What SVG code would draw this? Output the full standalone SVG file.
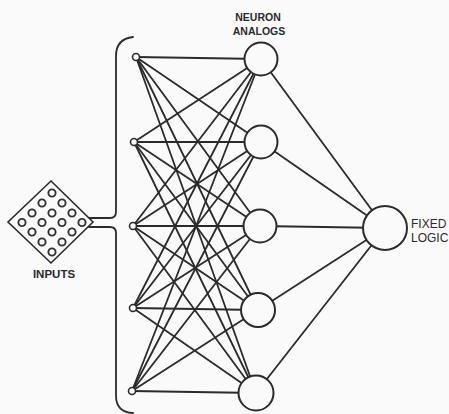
<svg xmlns="http://www.w3.org/2000/svg" width="449" height="414" viewBox="0 0 449 414">
<style>
.ln{stroke:#2b2b2b;stroke-width:1.8;fill:none;stroke-linecap:round}
.nd{stroke:#2b2b2b;stroke-width:2;fill:#fafafa}
.in{stroke:#2b2b2b;stroke-width:1.6;fill:#fafafa}
.dot{stroke:#333;stroke-width:1.9;fill:none}
.lb{font-family:"Liberation Sans",Arial,sans-serif;fill:#2a2a2a}
</style>
<rect width="449" height="414" fill="#fafafa"/>
<g id="connectors" class="ln">
<line x1="136" y1="57" x2="261" y2="59"/><line x1="136" y1="57" x2="261" y2="142"/><line x1="136" y1="57" x2="260" y2="226"/><line x1="136" y1="57" x2="258" y2="310"/><line x1="136" y1="57" x2="256" y2="393"/>
<line x1="134" y1="142" x2="261" y2="59"/><line x1="134" y1="142" x2="261" y2="142"/><line x1="134" y1="142" x2="260" y2="226"/><line x1="134" y1="142" x2="258" y2="310"/><line x1="134" y1="142" x2="256" y2="393"/>
<line x1="133" y1="226" x2="261" y2="59"/><line x1="133" y1="226" x2="261" y2="142"/><line x1="133" y1="226" x2="260" y2="226"/><line x1="133" y1="226" x2="258" y2="310"/><line x1="133" y1="226" x2="256" y2="393"/>
<line x1="133" y1="308" x2="261" y2="59"/><line x1="133" y1="308" x2="261" y2="142"/><line x1="133" y1="308" x2="260" y2="226"/><line x1="133" y1="308" x2="258" y2="310"/><line x1="133" y1="308" x2="256" y2="393"/>
<line x1="132" y1="391" x2="261" y2="59"/><line x1="132" y1="391" x2="261" y2="142"/><line x1="132" y1="391" x2="260" y2="226"/><line x1="132" y1="391" x2="258" y2="310"/><line x1="132" y1="391" x2="256" y2="393"/>
<line x1="261" y1="59" x2="385" y2="228"/><line x1="261" y1="142" x2="385" y2="228"/><line x1="260" y1="226" x2="385" y2="228"/><line x1="258" y1="310" x2="385" y2="228"/><line x1="256" y1="393" x2="385" y2="228"/>
<path d="M133,37 Q116,39 116,56 L116,212 Q116,218 110,218 L89,218 M89,227 L110,227 Q116,227 116,233 L116,396 Q116,412 133,413"/>
</g>
<g id="inputs">
<polygon class="in" points="51,181 93,222 51,263 8,222"/>
<g class="dot">
<circle cx="52" cy="193" r="3.6"/>
<circle cx="42" cy="203" r="3.6"/><circle cx="62" cy="203" r="3.6"/>
<circle cx="32" cy="213" r="3.6"/><circle cx="52" cy="213" r="3.6"/><circle cx="72" cy="213" r="3.6"/>
<circle cx="22" cy="222.5" r="3.6"/><circle cx="42" cy="222.5" r="3.6"/><circle cx="62" cy="222.5" r="3.6"/><circle cx="82" cy="222.5" r="3.6"/>
<circle cx="32" cy="232" r="3.6"/><circle cx="52" cy="232" r="3.6"/><circle cx="72" cy="232" r="3.6"/>
<circle cx="42" cy="242" r="3.6"/><circle cx="62" cy="242" r="3.6"/>
<circle cx="52" cy="252" r="3.6"/>
</g>
<text class="lb" x="54" y="278" font-size="11.5" font-weight="bold" text-anchor="middle">INPUTS</text>
</g>
<g id="input-taps">
<circle class="in" cx="136" cy="57" r="3.5"/>
<circle class="in" cx="134" cy="142" r="3.5"/>
<circle class="in" cx="133" cy="226" r="3.5"/>
<circle class="in" cx="133" cy="308" r="3.5"/>
<circle class="in" cx="132" cy="391" r="3.5"/>
</g>
<g id="neuron-analogs">
<circle class="nd" cx="261" cy="59" r="16.5"/>
<circle class="nd" cx="261" cy="142" r="16.5"/>
<circle class="nd" cx="260" cy="226" r="16.5"/>
<circle class="nd" cx="258" cy="310" r="17"/>
<circle class="nd" cx="256" cy="393" r="17.5"/>
<text class="lb" x="258" y="21" font-size="10.5" font-weight="bold" text-anchor="middle">NEURON</text>
<text class="lb" x="259" y="35" font-size="10.5" font-weight="bold" text-anchor="middle">ANALOGS</text>
</g>
<g id="fixed-logic">
<circle class="nd" cx="385" cy="228" r="22"/>
<text class="lb" x="411" y="228" font-size="12">FIXED</text>
<text class="lb" x="411" y="242" font-size="12">LOGIC</text>
</g>
</svg>
